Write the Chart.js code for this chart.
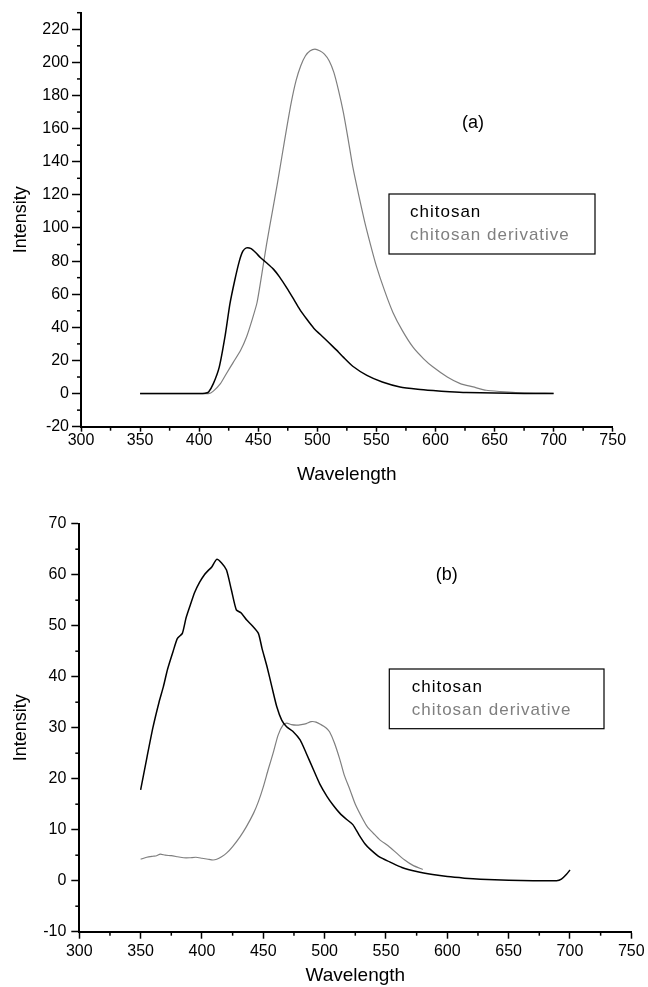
<!DOCTYPE html>
<html>
<head>
<meta charset="utf-8">
<script src="https://cdn.jsdelivr.net/npm/chart.js@4.4.1/dist/chart.umd.min.js"></script>
<style>
  html, body { margin: 0; padding: 0; background: #fff; }
  #wrap { position: relative; width: 648px; height: 987px; }
  canvas { position: absolute; left: 0; }
</style>
</head>
<body>
<div id="wrap">
  <canvas id="chartA" width="648" height="490" style="top:0"></canvas>
  <canvas id="chartB" width="648" height="497" style="top:490px"></canvas>
</div>
<script>
// (a) chitosan
const waveA1 = [350, 370, 400, 405, 408, 412, 417, 422, 426, 430, 434, 437, 440, 444, 448, 452, 457, 463, 468, 474, 480, 485, 491, 497, 505, 513, 518, 522, 530, 542, 555, 570, 585, 598, 612, 626, 650, 675, 700];
const intA1 = [0, 0, 0, 0.2, 1, 6, 16, 35, 54, 68, 80, 86, 88, 87.5, 85, 82, 79, 75, 70.5, 64, 57, 51, 45, 39.5, 34, 28.5, 25, 22, 16.5, 11, 7, 4, 2.6, 1.8, 1.1, 0.6, 0.3, 0.1, 0];
// (a) chitosan derivative
const waveA2 = [350, 380, 408, 412, 418, 423, 429, 435, 440, 445, 449, 453, 457, 462, 466, 470, 474, 478, 482, 486, 490, 494, 498, 502, 506, 510, 514, 518, 522, 526, 530, 535, 540, 545, 550, 557, 564, 572, 581, 590, 598, 610, 621, 632, 643, 655, 668, 685, 700];
const intA2 = [0, 0, 0, 1.5, 6, 12, 19, 26, 34, 45, 55, 72, 90, 110, 126, 143, 160, 176, 189, 198, 204, 207, 208, 207, 205, 201, 194, 183, 170, 154, 137, 120, 104, 90, 77, 62, 49, 38, 28, 21, 16, 10, 6, 4, 2, 1.2, 0.6, 0.3, 0.2];

// (b) chitosan
const waveB1 = [350, 355, 360, 365, 368.5, 372, 376.5, 380, 384, 387, 390, 394, 398, 402, 405, 408, 412, 416, 420, 424, 428, 432, 436.5, 441, 446, 449, 453, 457, 461, 465, 469, 474, 480, 485, 491, 496, 502, 507, 512.5, 518, 523, 528, 533, 537, 545, 553, 563, 575, 588, 600, 614, 627, 650, 670, 689, 693, 697, 700];
const intB1 = [17.8, 24, 30, 35, 38, 41.5, 45, 47.5, 48.5, 51.5, 53.7, 56.5, 58.5, 60, 60.8, 61.5, 63, 62.3, 60.9, 57, 53.1, 52.5, 51.1, 50, 48.5, 45.5, 42, 38, 34.1, 31.5, 30.2, 29.3, 27.6, 25, 21.7, 19, 16.5, 14.8, 13.2, 12, 11, 9, 7.2, 6.2, 4.6, 3.7, 2.6, 1.8, 1.2, 0.8, 0.5, 0.3, 0.1, 0, 0, 0.3, 1.2, 2.1];
// (b) chitosan derivative
const waveB2 = [350, 355, 360, 363, 366, 370, 375, 380, 385, 390, 395, 400, 405, 409, 412, 416, 420, 425, 431, 436, 442, 446, 450, 454, 458, 462, 466, 469, 473, 477, 481, 485, 489, 493, 497, 501, 504, 508, 512.5, 516, 520.7, 525, 531.5, 535, 539.7, 545, 552, 558.7, 565, 572, 580];
const intB2 = [4.2, 4.6, 4.8, 4.9, 5.2, 5.0, 4.9, 4.7, 4.5, 4.5, 4.6, 4.4, 4.2, 4.06, 4.2, 4.7, 5.4, 6.7, 8.6, 10.5, 13.2, 15.5, 18.4, 21.8, 25, 28.5, 30.5, 30.9, 30.6, 30.5, 30.6, 30.8, 31.2, 31.1, 30.6, 30.0, 29.2, 27, 23.7, 20.7, 17.8, 15, 11.9, 10.5, 9.3, 8, 6.8, 5.4, 4.1, 3, 2.2];

const seriesNames = ["chitosan", "chitosan derivative"];
const seriesColors = ["#000000", "#7f7f7f"];
const xTicks = [300, 750, 50];   // min, max, step

const FONT = "'Liberation Sans', Arial, sans-serif";

const toPoints = (xs, ys) => xs.map((x, i) => ({ x, y: ys[i] }));

// short ticks between the labelled ones
const minorTicks = {
  id: "minorTicks",
  afterDraw(chart) {
    const ctx = chart.ctx;
    ctx.save();
    ctx.strokeStyle = "#000";
    ctx.lineWidth = 1.5;
    Object.values(chart.scales).forEach((scale) => {
      const o = scale.options;
      if (!o.minorStep) return;
      for (let v = o.min; v <= o.max + 1e-9; v += o.minorStep) {
        if (Math.abs(v / o.ticks.stepSize - Math.round(v / o.ticks.stepSize)) < 1e-6) continue;
        const p = scale.getPixelForValue(v);
        ctx.beginPath();
        if (scale.isHorizontal()) {
          ctx.moveTo(p, scale.top);
          ctx.lineTo(p, scale.top + o.minorLength);
        } else {
          ctx.moveTo(scale.right, p);
          ctx.lineTo(scale.right - o.minorLength, p);
        }
        ctx.stroke();
      }
    });
    ctx.restore();
  }
};

// boxed legend and panel letter
const boxLegend = {
  id: "boxLegend",
  afterDraw(chart, args, opts) {
    const ctx = chart.ctx;
    const b = opts.box;
    ctx.save();
    ctx.strokeStyle = "#000";
    ctx.lineWidth = 1.2;
    ctx.strokeRect(b[0], b[1], b[2] - b[0], b[3] - b[1]);
    ctx.font = "17px " + FONT;
    ctx.letterSpacing = "1px";
    ctx.textBaseline = "middle";
    ctx.textAlign = "left";
    chart.data.datasets.forEach((ds, i) => {
      ctx.fillStyle = ds.borderColor;
      ctx.fillText(ds.label, opts.textX, opts.rows[i]);
    });
    ctx.letterSpacing = "0px";
    ctx.font = "18px " + FONT;
    ctx.fillStyle = "#000";
    ctx.textAlign = "center";
    ctx.fillText(opts.tag, opts.tagPos[0], opts.tagPos[1]);
    ctx.restore();
  }
};

function makeChart(id, s1, s2, yRange, geo) {
  return new Chart(document.getElementById(id), {
    type: "line",
    plugins: [minorTicks, boxLegend],
    data: {
      datasets: [
        { label: seriesNames[0], data: s1, borderColor: seriesColors[0], borderWidth: 1.5, pointRadius: 0, tension: 0.2 },
        { label: seriesNames[1], data: s2, borderColor: seriesColors[1], borderWidth: 1.2, pointRadius: 0, tension: 0.2 }
      ]
    },
    options: {
      responsive: false,
      animation: false,
      layout: { padding: geo.padding },
      plugins: {
        legend: { display: false },
        tooltip: { enabled: false },
        boxLegend: geo.legend
      },
      scales: {
        x: {
          type: "linear",
          min: xTicks[0],
          max: xTicks[1],
          minorStep: 25,
          minorLength: 4,
          afterFit: (scale) => { scale.height = geo.xHeight; },
          border: { display: true, color: "#000", width: 2 },
          grid: { drawOnChartArea: false, drawTicks: true, tickLength: geo.xTick, tickWidth: 1.5, tickColor: "#000" },
          ticks: { stepSize: xTicks[2], includeBounds: false, padding: geo.xPad, color: "#000", font: { family: FONT, size: 16 }, maxRotation: 0 },
          title: { display: true, text: "Wavelength", color: "#000", font: { family: FONT, size: 19 }, padding: { top: 0, bottom: geo.xTitlePad } }
        },
        y: {
          min: yRange[0],
          max: yRange[1],
          minorStep: yRange[3],
          minorLength: 4,
          afterFit: (scale) => { scale.width = geo.yWidth; },
          border: { display: true, color: "#000", width: 2 },
          grid: { drawOnChartArea: false, drawTicks: true, tickLength: geo.yTick, tickWidth: 1.5, tickColor: "#000" },
          ticks: { stepSize: yRange[2], includeBounds: false, padding: geo.yPad, color: "#000", font: { family: FONT, size: 16 } },
          title: { display: true, text: "Intensity", color: "#000", font: { family: FONT, size: 18 }, padding: { top: 10, bottom: 0 } }
        }
      }
    }
  });
}

makeChart("chartA", toPoints(waveA1, intA1), toPoints(waveA2, intA2), [-20, 230, 20, 10], {
  padding: { left: 0, right: 35.3, top: 12.7, bottom: 0 },
  yWidth: 81, xHeight: 63.3, xTick: 5, yTick: 9, xPad: -1, yPad: 3, xTitlePad: 3.6,
  legend: { box: [389, 194, 595, 254], textX: 410, rows: [212, 235], tag: "(a)", tagPos: [473, 123] }
});

makeChart("chartB", toPoints(waveB1, intB1), toPoints(waveB2, intB2), [-10, 70, 10, 5], {
  padding: { left: 0, right: 16.7, top: 33.7, bottom: 0 },
  yWidth: 79.3, xHeight: 55.3, xTick: 7, yTick: 8, xPad: 3, yPad: 5, xTitlePad: 0,
  legend: { box: [389.3, 179, 604, 238.7], textX: 411.7, rows: [197.3, 220], tag: "(b)", tagPos: [446.7, 85] }
});
</script>
</body>
</html>
